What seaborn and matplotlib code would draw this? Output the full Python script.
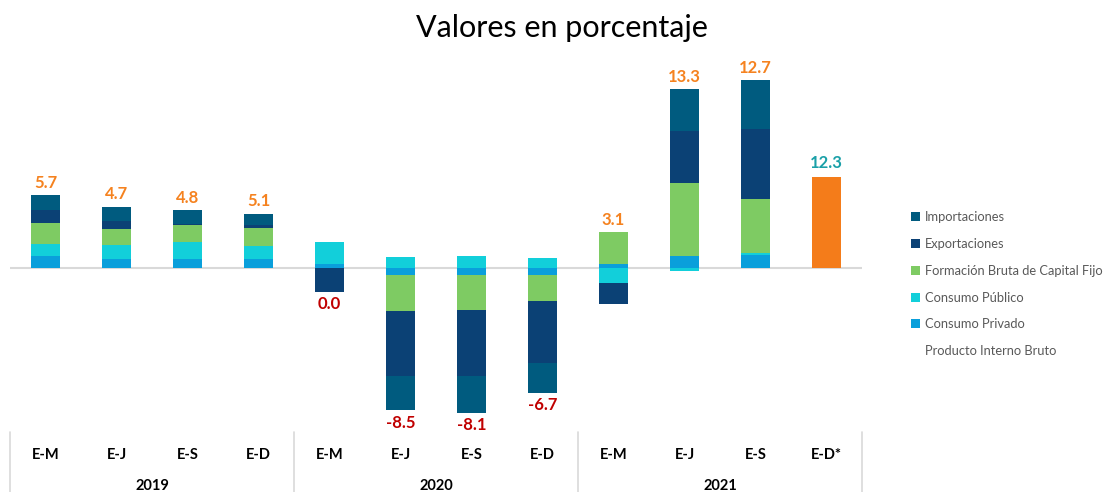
import numpy as np
import pandas as pd
import matplotlib
matplotlib.use("Agg")
import matplotlib.pyplot as plt
import matplotlib.transforms as mtransforms
from matplotlib.patches import Patch
import seaborn as sns

# ---------------- data ----------------
periods = ["E-M", "E-J", "E-S", "E-D", "E-M", "E-J", "E-S", "E-D", "E-M", "E-J", "E-S", "E-D*"]
years = ["2019", "2020", "2021"]
consumo_privado = [1.6, 1.2, 1.25, 1.25, 0.55, -0.9, -1.0, -1.0, 0.5, 1.65, 1.8, 0.0]
consumo_publico = [1.7, 1.9, 2.25, 1.7, 3.0, 1.5, 1.6, 1.35, -2.0, -0.35, 0.2, 0.0]
fbcf = [2.8, 2.2, 2.25, 2.4, 0.0, -4.95, -4.65, -3.4, 4.3, 9.8, 7.3, 0.0]
exportaciones = [1.7, 1.1, 0.2, 0.45, -3.25, -8.8, -8.9, -8.4, -2.85, 7.1, 9.5, 0.0]
importaciones = [2.0, 1.9, 1.85, 1.55, 0.0, -4.6, -5.05, -4.05, 0.0, 5.6, 6.55, 0.0]
pib = [5.7, 4.7, 4.8, 5.1, 0.0, -8.5, -8.1, -6.7, 3.1, 13.3, 12.7, 12.3]
pib_bar_index = 11  # E-D* shows the PIB as its own bar

series_names = ["Consumo Privado", "Consumo Público", "Formación Bruta de Capital Fijo",
                "Exportaciones", "Importaciones"]
series_vals = [consumo_privado, consumo_publico, fbcf, exportaciones, importaciones]
series_colors = ["#0A9FDB", "#12CFDA", "#7ECB63", "#0B4175", "#005B7F"]
pib_color = "#F47C1A"

# ---------------- style ----------------
sns.set_theme(style="white")
plt.rcParams["font.family"] = ["Lato", "DejaVu Sans"]

fig = plt.figure(figsize=(11.05, 4.92), dpi=100)
W, H = 1105, 492
ax_l, ax_r, ax_t, ax_b = 10, 862, 45, 432
ax = fig.add_axes([ax_l / W, 1 - ax_b / H, (ax_r - ax_l) / W, (ax_b - ax_t) / H])

keys = [f"{i:02d}" for i in range(len(periods))]
n = len(keys)
width = 0.4

pos_base = np.zeros(n)
neg_base = np.zeros(n)
for name, vals, col in zip(series_names, series_vals, series_colors):
    v = np.array(vals, dtype=float)
    bottom = np.where(v >= 0, pos_base, neg_base)
    sns.barplot(x=keys, y=v, order=keys, color=col, width=width, bottom=bottom,
                errorbar=None, linewidth=0, saturation=1, ax=ax)
    pos_base = pos_base + np.clip(v, 0, None)
    neg_base = neg_base + np.clip(v, None, 0)

pib_arr = np.array(pib, dtype=float)
pib_bar = np.where(np.arange(n) == pib_bar_index, pib_arr, 0.0)
sns.barplot(x=keys, y=pib_bar, order=keys, color=pib_color, width=width,
            errorbar=None, linewidth=0, saturation=1, ax=ax)

# axes setup
y_per_px = 1 / 7.4
zero_px = 268
ax.set_ylim(-(ax_b - zero_px) * y_per_px, (zero_px - ax_t) * y_per_px)
ax.set_xlim(-0.5, n - 0.5)
for s in ax.spines.values():
    s.set_visible(False)
ax.set_xticks([])
ax.set_yticks([])
ax.set_xlabel("")
ax.set_ylabel("")
ax.axhline(0, color="#D9D9D9", lw=1.5, zorder=0)

# data labels (PIB)
lab_fs = 12
for i, val in enumerate(pib):
    if i == pib_bar_index:
        top = max(pos_base[i], pib_arr[i])
        ax.annotate(f"{val:.1f}", (i, top), xytext=(0, 4), textcoords="offset points",
                    ha="center", va="bottom", fontsize=lab_fs, fontweight="bold", color="#1AA0A8")
    elif val > 0:
        ax.annotate(f"{val:.1f}", (i, pos_base[i]), xytext=(0, 3), textcoords="offset points",
                    ha="center", va="bottom", fontsize=lab_fs, fontweight="bold", color="#F5821F")
    else:
        ax.annotate(f"{val:.1f}", (i, neg_base[i]), xytext=(0, -3), textcoords="offset points",
                    ha="center", va="top", fontsize=lab_fs, fontweight="bold", color="#C00000")

# category axis (multi-level)
trans = mtransforms.blended_transform_factory(ax.transData, ax.transAxes)
ah = ax_b - ax_t
for i, p in enumerate(periods):
    ax.text(i, -(455 - ax_b) / ah, p, transform=trans, ha="center", va="center",
            fontsize=10.5, fontweight="bold", color="black")
for j, y in enumerate(years):
    ax.text(4 * j + 1.5, -(486 - ax_b) / ah, y, transform=trans, ha="center", va="center",
            fontsize=10.5, fontweight="bold", color="black")
for xs in [-0.5, 3.5, 7.5, 11.5]:
    ax.plot([xs, xs], [0, -(H - ax_b) / ah], transform=trans, color="#D9D9D9",
            lw=1.2, clip_on=False)

# title
fig.text(562 / W, 1 - 28 / H, "Valores en porcentaje", ha="center", va="center",
         fontsize=22, color="black")

# legend
handles = [Patch(facecolor=c, edgecolor="none") for c in series_colors[::-1]]
labels = series_names[::-1]
handles.append(Patch(facecolor="none", edgecolor="none"))
labels.append("Producto Interno Bruto")
leg = fig.legend(handles, labels, loc="upper left", bbox_to_anchor=(911 / W, 1 - 211 / H),
                 frameon=False, fontsize=9.3, handlelength=0.7, handleheight=0.7,
                 handletextpad=0.35, labelspacing=1.15, borderpad=0, borderaxespad=0)
for t in leg.get_texts():
    t.set_color("#595959")

fig.savefig("out.png", dpi=100)
